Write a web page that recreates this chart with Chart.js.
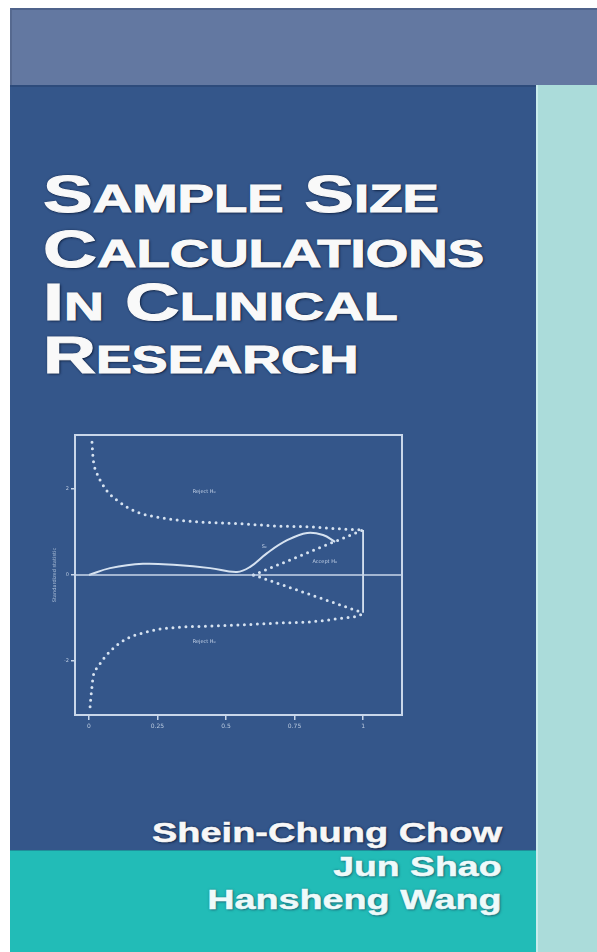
<!DOCTYPE html>
<html>
<head>
<meta charset="utf-8">
<script src="https://cdn.jsdelivr.net/npm/chart.js@4.4.0/dist/chart.umd.min.js"></script>
<style>
  body { margin: 0; width: 597px; height: 952px; background: #fff; position: relative; overflow: hidden; font-family: "Liberation Sans", Arial, sans-serif; }
  .band { position: absolute; box-sizing: border-box; }
  #top { left: 10px; top: 8px; width: 587px; height: 77px; background: #6378a1; border-top: 2px solid #4f638b; border-left: 2px solid #56698f; }
  #main { left: 10px; top: 85px; width: 526px; height: 765px; background: #34568a; border-top: 2px solid #2d4b7b; }
  #foot { left: 10px; top: 850px; width: 526px; height: 102px; background: #22bcb7; border-top: 1px solid #1f8f9a; }
  #strip { left: 536px; top: 85px; width: 61px; height: 867px; background: #abdcda; border-left: 2px solid #c9ecec; }
  .tl { position: absolute; left: 43px; white-space: nowrap; color: #f9f9f9; font-weight: bold; font-size: 52px; line-height: 1; transform-origin: 0 0;
        -webkit-text-stroke: 1px #f9f9f9; text-shadow: 0 0 2px #0e1f3d, 1px 1px 2px #0e1f3d; }
  .tl .s { font-size: 38px; }
  .au { position: absolute; right: 95px; white-space: nowrap; color: #f7f7f7; font-weight: bold; font-size: 27px; line-height: 1; transform-origin: 100% 0;
        -webkit-text-stroke: 0.5px #f7f7f7; text-shadow: 0 0 2px #13284a, 1px 1px 2px #13284a; }
  .au.lt { color: #eefafa; -webkit-text-stroke: 0.5px #eefafa; text-shadow: 0 0 2px #1d6c78, 1px 1px 2px #1d6c78; }
  #chart { position: absolute; left: 52px; top: 420px; }
</style>
</head>
<body>
<div class="band" id="top"></div>
<div class="band" id="main"></div>
<div class="band" id="foot"></div>
<div class="band" id="strip"></div>

<div class="tl" style="top:168px" data-w="396">S<span class="s">AMPLE</span> S<span class="s">IZE</span></div>
<div class="tl" style="top:223px" data-w="441">C<span class="s">ALCULATIONS</span></div>
<div class="tl" style="top:276px" data-w="355">I<span class="s">N</span> C<span class="s">LINICAL</span></div>
<div class="tl" style="top:329px" data-w="315">R<span class="s">ESEARCH</span></div>

<div class="au" style="top:820px" data-w="350">Shein-Chung Chow</div>
<div class="au lt" style="top:854px" data-w="169">Jun Shao</div>
<div class="au lt" style="top:887px" data-w="295">Hansheng Wang</div>

<canvas id="chart" width="368" height="330"></canvas>

<script>
const xTicks = [0, 0.25, 0.5, 0.75, 1];
const yTicks = [-2, 0, 2];
const xBounds = [-0.051, 1.142];
const yBounds = [-3.26, 3.26];

// upper rejection boundary
const upperT = [0.011, 0.015, 0.029, 0.047, 0.069, 0.102, 0.139, 0.186, 0.248, 0.321, 0.416, 0.562, 0.686, 0.807, 0.927, 1.0];
const upperZ = [3.09, 2.72, 2.37, 2.14, 1.93, 1.74, 1.58, 1.44, 1.35, 1.28, 1.23, 1.19, 1.14, 1.12, 1.07, 1.05];

// lower rejection boundary
const lowerT = [0.004, 0.007, 0.011, 0.015, 0.033, 0.058, 0.095, 0.142, 0.197, 0.259, 0.343, 0.442, 0.562, 0.686, 0.807, 0.927, 0.989, 1.0];
const lowerZ = [-3.07, -2.84, -2.60, -2.37, -2.14, -1.91, -1.67, -1.47, -1.35, -1.26, -1.21, -1.19, -1.16, -1.12, -1.09, -1.00, -0.93, -0.88];

// acceptance region edges
const acceptT = [0.60, 1.0];
const acceptUpperZ = [0, 1.05];
const acceptLowerZ = [0, -0.88];
const finalT = [1.0, 1.0];
const finalZ = [1.05, -0.88];

// sample path S_k
const pathT = [0, 0.077, 0.197, 0.321, 0.442, 0.540, 0.588, 0.650, 0.723, 0.796, 0.854, 0.898];
const pathZ = [0, 0.16, 0.26, 0.23, 0.16, 0.07, 0.19, 0.51, 0.81, 0.98, 0.93, 0.77];

const noteText = ['Reject H₀', 'Reject H₀', 'Accept H₀', 'Sₖ'];
const noteT = [0.42, 0.42, 0.86, 0.64];
const noteZ = [1.95, -1.56, 0.30, 0.67];

const lineColor = '#d6e2f0';
const frameColor = '#c9d7ea';

function pts(xs, ys) {
  return xs.map((x, i) => ({ x: x, y: ys[i] }));
}

function dotted(xs, ys) {
  return { data: pts(xs, ys), showLine: true, pointRadius: 0, borderColor: lineColor, borderWidth: 3,
           borderDash: [0, 6.5], borderCapStyle: 'round', cubicInterpolationMode: 'monotone', fill: false };
}

// fit the wide cover lettering
document.querySelectorAll('[data-w]').forEach(el => {
  el.style.transform = 'scaleX(' + (el.dataset.w / el.offsetWidth) + ')';
});

const framePlugin = {
  id: 'frame',
  afterDatasetsDraw(chart) {
    const a = chart.chartArea;
    const ctx = chart.ctx;
    ctx.save();
    ctx.strokeStyle = frameColor;
    ctx.lineWidth = 2;
    ctx.strokeRect(a.left, a.top, a.right - a.left, a.bottom - a.top);
    ctx.fillStyle = '#c5d3e8';
    ctx.font = '5px "DejaVu Sans"';
    ctx.textAlign = 'center';
    ctx.textBaseline = 'middle';
    noteText.forEach((t, i) => {
      ctx.fillText(t, chart.scales.x.getPixelForValue(noteT[i]), chart.scales.y.getPixelForValue(noteZ[i]));
    });
    ctx.restore();
  }
};

new Chart(document.getElementById('chart'), {
  type: 'scatter',
  data: {
    datasets: [
      { data: pts(xBounds, [0, 0]), showLine: true, pointRadius: 0, borderColor: frameColor, borderWidth: 1.6 },
      dotted(upperT, upperZ),
      dotted(lowerT, lowerZ),
      dotted(acceptT, acceptUpperZ),
      dotted(acceptT, acceptLowerZ),
      { data: pts(finalT, finalZ), showLine: true, pointRadius: 0, borderColor: lineColor, borderWidth: 1.8 },
      { data: pts(pathT, pathZ), showLine: true, pointRadius: 0, borderColor: lineColor, borderWidth: 2, tension: 0.4 }
    ]
  },
  options: {
    responsive: false,
    animation: false,
    layout: { padding: { top: 15, right: 18, left: 0, bottom: 0 } },
    plugins: { legend: { display: false }, tooltip: { enabled: false } },
    scales: {
      x: {
        type: 'linear', min: xBounds[0], max: xBounds[1],
        afterBuildTicks: s => { s.ticks = xTicks.map(v => ({ value: v })); },
        afterFit: s => { s.height = 35; },
        border: { display: false },
        grid: { drawOnChartArea: false, drawTicks: true, tickLength: 5, color: frameColor, lineWidth: 1.5 },
        ticks: { color: '#b9c9df', font: { size: 6, family: 'DejaVu Sans' }, padding: 3, maxRotation: 0, callback: v => String(v) }
      },
      y: {
        type: 'linear', min: yBounds[0], max: yBounds[1],
        afterBuildTicks: s => { s.ticks = yTicks.map(v => ({ value: v })); },
        afterFit: s => { s.width = 23; },
        border: { display: false },
        grid: { drawOnChartArea: false, drawTicks: true, tickLength: 4, color: frameColor, lineWidth: 1.5 },
        ticks: { color: '#b9c9df', font: { size: 5, family: 'DejaVu Sans' }, padding: 2, callback: v => String(v) },
        title: { display: true, text: 'Standardized statistic', color: '#a9bcd6', font: { size: 5, family: 'DejaVu Sans' }, padding: { top: 0, bottom: 0 } }
      }
    }
  },
  plugins: [framePlugin]
});
</script>
</body>
</html>
